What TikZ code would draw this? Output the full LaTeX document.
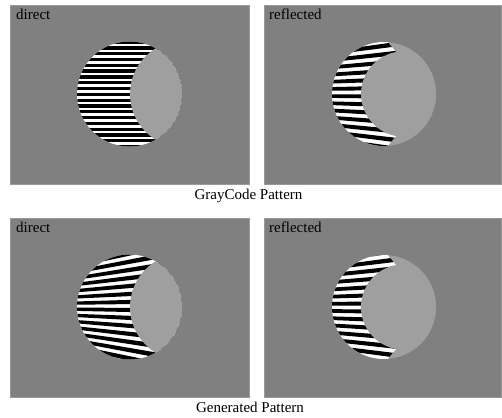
\documentclass[tikz,border=0pt]{standalone}
\usepackage{fontspec}
\setmainfont{Liberation Serif}
\definecolor{panelgray}{gray}{0.5}
\definecolor{discgray}{gray}{0.625}
\definecolor{edgegray}{gray}{0.6}
\tikzset{
  panel/.style={fill=panelgray, draw=edgegray, line width=0.6pt},
  lbl/.style={anchor=base west, font=\fontsize{15}{18}\selectfont, inner sep=0pt},
  captxt/.style={anchor=base, font=\fontsize{15}{18}\selectfont, inner sep=0pt},
  disc/.style={fill=discgray},
}
\begin{document}
\begin{tikzpicture}[x=1pt,y=-1pt]
\useasboundingbox (0,0) rectangle (502,417);
\fill[white] (0,0) rectangle (502,417);
% panels
\path[panel] (10,5) rectangle (249,184);
\path[panel] (264,5) rectangle (501,184);
\path[panel] (10,218) rectangle (249,397);
\path[panel] (264,218) rectangle (501,397);
% ---------- panel 1: GrayCode direct ----------
\begin{scope}
  \clip (129.5,94) circle[radius=52.5];
  \fill[white] (70,35) rectangle (190,155);
  \foreach \i in {0,...,19}
    \fill[black] (70,{40.5+\i*5.8}) rectangle (190,{43.8+\i*5.8});
  \fill[disc] (183.5,94) circle[radius=53.5];
\end{scope}
% ---------- panel 2: GrayCode reflected ----------
\begin{scope}
  \clip (384,94) circle[radius=52];
  \fill[disc] (384,94) circle[radius=52];
  \begin{scope}
    \clip (320,35) -- (386,40) -- (397,53) -- (397,135) -- (386,148) -- (320,155) -- cycle;
    \fill[white] (320,35) rectangle (450,155);
    \foreach \k in {-9,...,9}
      \fill[black] (20,94) -- +({\k*1.32+0.05}:500) -- +({\k*1.32+0.72}:500) -- cycle;
  \end{scope}
  \fill[disc] (403.7,94) circle[radius=42.7];
\end{scope}
% ---------- panel 3: Generated direct ----------
\begin{scope}
  \clip (129.5,307) circle[radius=52.5];
  \fill[white] (70,250) rectangle (190,370);
  \foreach \k in {-10,...,10}
    \fill[black] (-110,307) -- +({\k*1.9+0.2}:500) -- +({\k*1.9+1.2}:500) -- cycle;
  \fill[disc] (183.5,307) circle[radius=53.5];
\end{scope}
% ---------- panel 4: Generated reflected ----------
\begin{scope}
  \clip (384,307) circle[radius=52];
  \fill[disc] (384,307) circle[radius=52];
  \begin{scope}
    \clip (320,248) -- (386,253) -- (397,266) -- (397,348) -- (386,361) -- (320,368) -- cycle;
    \fill[white] (320,248) rectangle (450,368);
    \foreach \k in {-9,...,9}
      \fill[black] (20,307) -- +({\k*1.32+0.4}:500) -- +({\k*1.32+1.07}:500) -- cycle;
  \end{scope}
  \fill[disc] (403.7,307) circle[radius=42.7];
\end{scope}
% labels
\node[lbl] (l1) at (16,19.5) {direct};
\node[lbl] (l2) at (269,19.5) {reflected};
\node[lbl] (l3) at (16,232.5) {direct};
\node[lbl] (l4) at (269,232.5) {reflected};
\node[captxt] (c1) at (248.5,199) {GrayCode Pattern};
\node[captxt] (c2) at (250,412) {Generated Pattern};
\end{tikzpicture}
\end{document}
